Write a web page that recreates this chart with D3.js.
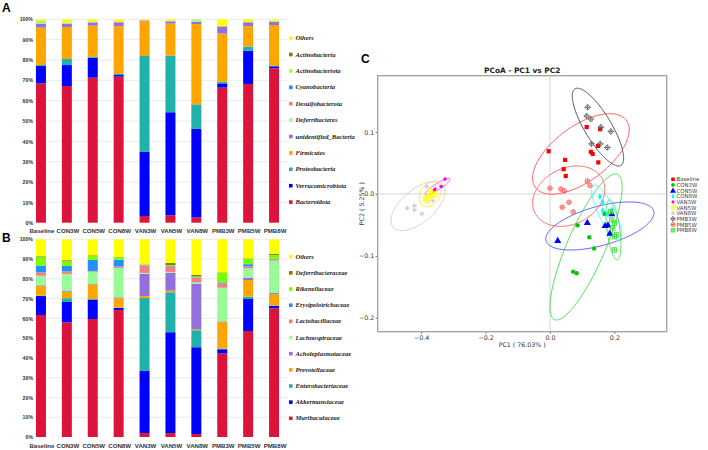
<!DOCTYPE html>
<html><head><meta charset="utf-8">
<script src="https://cdn.jsdelivr.net/npm/d3@7"></script>
<style>body{margin:0;background:#fff}svg{display:block}</style>
</head><body><svg id="c" width="708" height="450"></svg>
<script>
// ---------- DATA ----------
const samples = ["Baseline","CON3W","CON5W","CON8W","VAN3W","VAN5W","VAN8W","PMB3W","PMB5W","PMB8W"];
const pctTicks = [0,10,20,30,40,50,60,70,80,90,100];

// Panel A: phylum level, stacked bottom -> top
const phyla = ["Bacteroidota","Verrucomicrobiota","Proteobacteria","Firmicutes","unidentified_Bacteria","Deferribacteres","Desulfobacterota","Cyanobacteria","Actinobacteriota","Actinobacteria","Others"];
const phylumColors = ["#DC143C","#0000FF","#20B2AA","#FFA500","#9370DB","#98FB98","#F08080","#1E90FF","#ADFF2F","#808000","#FFFF00"];
const phylumValues = [
  [68.5,67.2,71.3,71.8, 3.3, 3.6, 2.6,66.4,68.2,75.9], // Bacteroidota
  [ 8.7,10.3, 9.8, 0.8,31.5,50.7,43.5, 2.1,16.4, 1.0], // Verrucomicrobiota
  [ 0.3, 3.0, 0.4, 0.5,47.2,27.8,12.1, 0.8, 2.0, 0.2], // Proteobacteria
  [18.4,15.7,15.4,23.5,17.0,15.8,39.5,23.7,10.0,20.1], // Firmicutes
  [ 1.8, 1.7, 1.6, 1.9, 0.4, 1.1, 1.0, 3.4, 1.9, 1.5], // unidentified_Bacteria
  [ 0.8, 0.3, 0.2, 0.1, 0.0, 0.3, 1.1, 0.2, 0.1, 0.5], // Deferribacteres
  [ 0.2, 0.1, 0.1, 0.3, 0.1, 0.1, 0.1, 0.1, 0.1, 0.1], // Desulfobacterota
  [ 0.1, 0.0, 0.0, 0.0, 0.0, 0.0, 0.0, 0.0, 0.0, 0.0], // Cyanobacteria
  [ 0.3, 0.1, 0.1, 0.0, 0.1, 0.0, 0.0, 0.1, 0.0, 0.1], // Actinobacteriota
  [ 0.0, 0.0, 0.0, 0.0, 0.0, 0.0, 0.0, 0.0, 0.0, 0.0], // Actinobacteria
  [ 0.9, 1.6, 1.1, 1.1, 0.4, 0.6, 0.1, 3.2, 1.3, 0.6]  // Others
];

// Panel B: family level, stacked bottom -> top
const families = ["Muribaculaceae","Akkermansiaceae","Enterobacteriaceae","Prevotellaceae","Acholeplasmataceae","Lachnospiraceae","Lactobacillaceae","Erysipelotrichaceae","Rikenellaceae","Deferribacteraceae","Others"];
const familyColors = ["#DC143C","#0000FF","#20B2AA","#FFA500","#9370DB","#98FB98","#F08080","#1E90FF","#7CFC00","#808000","#FFFF00"];
const familyValues = [
  [61.7,58.0,59.7,64.2, 2.0, 2.0, 1.5,42.2,53.6,65.1], // Muribaculaceae
  [ 9.6,10.3, 9.8, 1.1,31.4,51.0,43.9, 2.2,16.2, 1.2], // Akkermansiaceae
  [ 0.2, 1.9, 0.3, 0.2,36.9,20.2, 8.6, 0.3, 1.2, 0.2], // Enterobacteriaceae
  [ 4.9, 3.3, 7.4, 4.7, 1.0, 0.8, 0.5,13.5, 8.4, 5.7], // Prevotellaceae
  [ 0.3, 0.5, 0.2, 0.4,11.2, 9.1,23.1, 0.3, 1.2, 0.6], // Acholeplasmataceae
  [ 4.9, 8.5, 6.2,14.9, 0.5, 0.4, 0.6,17.0, 4.7,16.4], // Lachnospiraceae
  [ 1.7, 1.3, 0.4, 0.8, 3.7, 2.8, 2.4, 2.2, 1.0, 0.7], // Lactobacillaceae
  [ 3.4, 2.7, 5.7, 3.4, 0.2, 0.3, 0.2, 0.5, 1.1, 0.3], // Erysipelotrichaceae
  [ 4.2, 2.4, 1.9, 1.2, 0.2, 0.3, 0.4, 4.9, 2.8, 1.9], // Rikenellaceae
  [ 0.5, 0.5, 0.3, 0.3, 0.2, 1.1, 0.8, 0.2, 0.2, 0.6], // Deferribacteraceae
  [ 8.6,10.6, 8.1, 8.8,12.7,12.0,18.0,16.7, 9.6, 7.3]  // Others
];

// Panel C: PCoA
const groups = ["Baseline","CON3W","CON5W","CON8W","VAN3W","VAN5W","VAN8W","PMB3W","PMB5W","PMB8W"];
const groupColors = ["#FF0000","#00C800","#0000FF","#00FFFF","#FF00FF","#FFFF00","#C8C8C8","#555555","#FF5050","#30DD30"];
const ellipseColors = ["#FF4D4D","#44DD44","#5050FF","#33FFFF","#FF33FF","#EEEE00","#CCCCCC","#404040","#FF5C5C","#44DD44"];
const groupShapes = ["square","circle","triangle","diamond","dot","squarePlus","asterisk","diamondPlus","circlePlus","squarePlus"];
const pcoaPoints = [
  [[-0.004,0.069],[0.047,0.055],[0.0425,0.040],[0.049,0.029],[0.114,0.108],[0.156,0.1045],[0.149,0.0775],[0.127,0.068],[0.1325,0.0646],[0.150,0.051]],
  [[0.086,-0.0507],[0.122,-0.070],[0.137,-0.088],[0.072,-0.1255],[0.083,-0.128],[0.169,-0.032]],
  [[0.024,-0.075],[0.116,-0.046],[0.171,-0.051],[0.180,-0.050],[0.192,-0.032],[0.186,-0.0635]],
  [[0.155,-0.0044],[0.163,-0.0135],[0.164,-0.027],[0.192,-0.026],[0.178,-0.032]],
  [[-0.326,0.024],[-0.338,0.012],[-0.357,0.008],[-0.360,0.005]],
  [[-0.388,-0.008],[-0.378,-0.004],[-0.365,-0.002],[-0.357,0.000],[-0.372,0.004],[-0.380,-0.011]],
  [[-0.443,-0.023],[-0.421,-0.019],[-0.421,-0.026],[-0.398,-0.032],[-0.383,0.012],[-0.364,-0.011]],
  [[0.117,0.140],[0.114,0.126],[0.127,0.121],[0.158,0.108],[0.189,0.101],[0.129,0.081],[0.156,0.081],[0.178,0.075]],
  [[0.0,0.0092],[0.034,0.008],[0.0445,0.0048],[0.116,0.021],[0.124,0.0134],[0.059,-0.0134],[0.038,-0.0215],[0.072,-0.029]],
  [[0.188,-0.0285],[0.192,-0.042],[0.200,-0.047],[0.195,-0.055],[0.207,-0.066],[0.200,-0.069],[0.200,-0.0905]]
];
// confidence ellipses: [centre PC1, centre PC2, half-extent PC1, half-extent PC2, correlation]
const ellipseParams = [
  [0.096, 0.0646, 0.150, 0.065, 0.60],
  [0.112,-0.0856, 0.112, 0.118, 0.82],
  [0.155,-0.0517, 0.168, 0.0388, 0.54],
  [0.176,-0.030, 0.0466, 0.0444,-0.80],
  [-0.349, 0.0118, 0.0388, 0.0134, 0.90],
  [-0.372,-0.0003, 0.034, 0.0202, 0.30],
  [-0.410,-0.0197, 0.0839, 0.0396, 0.59],
  [0.149, 0.108, 0.0798, 0.0628,-0.80],
  [0.0584,-0.0036, 0.112, 0.0488, 0.23],
  [0.197,-0.058, 0.0233, 0.0485,-0.50]
];
const pc1Ticks = [-0.4,-0.2,0.0,0.2];
const pc2Ticks = [-0.2,-0.1,0.0,0.1];

// ---------- DRAW ----------
const svg = d3.select("#c");
svg.append("rect").attr("width",708).attr("height",450).attr("fill","#fff");

function stackPanel(top, bottom, taxa, values, colors, labelY, legendY0, legendStep, panelLetter, letterY) {
  const g = svg.append("g");
  const x = d3.scaleBand().domain(samples).range([28,287]).paddingInner(0.614).paddingOuter(0.307);
  const y = d3.scaleLinear().domain([0,100]).range([bottom, top]);
  g.selectAll("line.grid").data(pctTicks.filter(d=>d>0)).join("line")
    .attr("x1",35).attr("x2",287).attr("y1",d=>y(d)).attr("y2",d=>y(d))
    .attr("stroke","#e4e4e4").attr("stroke-width",0.8);
  const axis = d3.axisLeft(y).tickValues(pctTicks).tickFormat(d=>d+"%").tickSize(0).tickPadding(2);
  const ag = g.append("g").attr("transform","translate(35,0)").call(axis);
  ag.select(".domain").remove();
  ag.selectAll("text").attr("font-family","Liberation Sans, Arial, sans-serif").attr("font-weight","bold")
    .attr("font-size","5.2px").attr("fill","#333");
  const rows = samples.map((s,i)=>{const r={sample:s}; taxa.forEach((t,k)=>r[t]=values[k][i]); return r;});
  const series = d3.stack().keys(taxa)(rows);
  series.forEach((ser,k)=>{
    g.append("g").attr("fill",colors[k]).selectAll("rect").data(ser).join("rect")
      .attr("x",d=>x(d.data.sample)).attr("width",x.bandwidth())
      .attr("y",d=>y(d[1])).attr("height",d=>Math.max(0,y(d[0])-y(d[1])));
  });
  g.selectAll("text.lab").data(samples).join("text")
    .attr("x",d=>x(d)+x.bandwidth()/2+1).attr("y",labelY).attr("text-anchor","middle")
    .attr("font-family","Liberation Sans, Arial, sans-serif").attr("font-weight","bold")
    .attr("font-size","6.1px").attr("fill","#333").text(d=>d);
  const leg = taxa.map((t,k)=>({t, c:colors[k]})).reverse();
  const lg = g.append("g");
  leg.forEach((d,i)=>{
    const yy = legendY0 + i*legendStep;
    lg.append("rect").attr("x",289).attr("y",yy-1.9).attr("width",3.6).attr("height",3.6).attr("fill",d.c);
    lg.append("text").attr("x",295.5).attr("y",yy+2).attr("font-family","Liberation Serif, Times New Roman, serif")
      .attr("font-style","italic").attr("font-weight","bold").attr("font-size","6.6px").attr("fill","#222").text(d.t);
  });
  svg.append("text").attr("x",2).attr("y",letterY).attr("font-family","Liberation Sans, Arial, sans-serif")
    .attr("font-weight","bold").attr("font-size","12px").text(panelLetter);
}

stackPanel(19.3, 222.7, phyla, phylumValues, phylumColors, 232.8, 38.2, 16.4, "A", 12);
stackPanel(239.3, 437, families, familyValues, familyColors, 447.6, 256.8, 16.16, "B", 242);

// Panel C
const L=377.7, R=666.7, T=75.7, B=331.7;
const xs = d3.scaleLinear().domain([-0.535,0.3625]).range([L,R]);
const ys = d3.scaleLinear().domain([-0.2225,0.191]).range([B,T]);
const gc = svg.append("g");
svg.append("text").attr("x",361).attr("y",63).attr("font-family","Liberation Sans, Arial, sans-serif")
  .attr("font-weight","bold").attr("font-size","12px").text("C");
gc.append("text").attr("x",(L+R)/2).attr("y",73).attr("text-anchor","middle")
  .attr("font-family","DejaVu Sans, sans-serif").attr("font-weight","bold").attr("font-size","7.4px").attr("fill","#222")
  .text("PCoA - PC1 vs PC2");
gc.append("line").attr("x1",xs(0)).attr("x2",xs(0)).attr("y1",T).attr("y2",B).attr("stroke","#d4d4d4").attr("stroke-width",1);
gc.append("line").attr("x1",L).attr("x2",R).attr("y1",ys(0)).attr("y2",ys(0)).attr("stroke","#d4d4d4").attr("stroke-width",1);
const xa = gc.append("g").attr("transform",`translate(0,${B})`).call(d3.axisBottom(xs).tickValues(pc1Ticks).tickFormat(d3.format(".1f")).tickSize(2).tickPadding(1.5));
const ya = gc.append("g").attr("transform",`translate(${L},0)`).call(d3.axisLeft(ys).tickValues(pc2Ticks).tickFormat(d3.format(".1f")).tickSize(2).tickPadding(1.5));
[xa,ya].forEach(a=>{a.select(".domain").remove();
  a.selectAll("line").attr("stroke","#666");
  a.selectAll("text").attr("font-family","DejaVu Sans, sans-serif").attr("font-size","6.3px").attr("fill","#333");});
gc.append("text").attr("x",(L+R)/2).attr("y",346.5).attr("text-anchor","middle").attr("font-family","DejaVu Sans, sans-serif")
  .attr("font-size","6.3px").attr("fill","#333").text("PC1 ( 76.03% )");
gc.append("text").attr("transform",`translate(363.5,${(T+B)/2}) rotate(-90)`).attr("text-anchor","middle").attr("font-family","DejaVu Sans, sans-serif")
  .attr("font-size","6.3px").attr("fill","#333").text("PC2 ( 5.25% )");
const ts = d3.range(0, 2*Math.PI+0.001, Math.PI/90);
ellipseParams.forEach((e,i)=>{
  const [cx,cy,sx,sy,rho]=e;
  const pts = ts.map(t=>[xs(cx+sx*Math.cos(t)), ys(cy+sy*(rho*Math.cos(t)+Math.sqrt(1-rho*rho)*Math.sin(t)))]);
  gc.append("path").attr("d",d3.line()(pts)+"Z").attr("fill","none").attr("stroke",ellipseColors[i]).attr("stroke-width",0.9);
});
function marker(g, shape, px, py, col, s) {
  s = s||1;
  switch(shape){
    case "square": g.append("rect").attr("x",px-2.1*s).attr("y",py-2.1*s).attr("width",4.2*s).attr("height",4.2*s).attr("fill",col); break;
    case "circle": g.append("circle").attr("cx",px).attr("cy",py).attr("r",2.2*s).attr("fill",col); break;
    case "dot": g.append("circle").attr("cx",px).attr("cy",py).attr("r",1.8*s).attr("fill",col); break;
    case "triangle": g.append("path").attr("d",d3.symbol(d3.symbolTriangle,22*s*s)()).attr("transform",`translate(${px},${py+0.5})`).attr("fill",col); break;
    case "diamond": g.append("path").attr("d",d3.symbol(d3.symbolDiamond,13*s*s)()).attr("transform",`translate(${px},${py})`).attr("fill",col); break;
    case "squarePlus": {
      const r=2.2*s;
      g.append("rect").attr("x",px-r).attr("y",py-r).attr("width",2*r).attr("height",2*r).attr("fill","none").attr("stroke",col).attr("stroke-width",0.8);
      g.append("path").attr("d",`M${px-r},${py}H${px+r}M${px},${py-r}V${py+r}`).attr("stroke",col).attr("stroke-width",0.8);
      break;}
    case "circlePlus": {
      const r=2.3*s;
      g.append("circle").attr("cx",px).attr("cy",py).attr("r",r).attr("fill","none").attr("stroke",col).attr("stroke-width",0.8);
      g.append("path").attr("d",`M${px-r},${py}H${px+r}M${px},${py-r}V${py+r}`).attr("stroke",col).attr("stroke-width",0.8);
      break;}
    case "diamondPlus": {
      const r=2.8*s;
      g.append("path").attr("d",`M${px},${py-r}L${px+r},${py}L${px},${py+r}L${px-r},${py}Z`).attr("fill","none").attr("stroke",col).attr("stroke-width",0.8);
      g.append("path").attr("d",`M${px-r},${py}H${px+r}M${px},${py-r}V${py+r}`).attr("stroke",col).attr("stroke-width",0.8);
      break;}
    case "asterisk": {
      const r=2.4*s, q=r*0.707;
      g.append("path").attr("d",`M${px-r},${py}H${px+r}M${px},${py-r}V${py+r}M${px-q},${py-q}L${px+q},${py+q}M${px-q},${py+q}L${px+q},${py-q}`)
        .attr("stroke",col).attr("stroke-width",0.8);
      break;}
  }
}
const mg = gc.append("g");
groups.forEach((gname,i)=>{
  pcoaPoints[i].forEach(p=>marker(mg, groupShapes[i], xs(p[0]), ys(p[1]), groupColors[i]));
});
gc.append("rect").attr("x",L).attr("y",T).attr("width",R-L).attr("height",B-T).attr("fill","none").attr("stroke","#a0a0a0").attr("stroke-width",1.3);
groups.forEach((gname,i)=>{
  const yy = 179.3 + i*5.65;
  marker(gc, groupShapes[i], 673, yy, groupColors[i], 0.85);
  gc.append("text").attr("x",676.5).attr("y",yy+2).attr("font-family","DejaVu Sans, sans-serif")
    .attr("font-size","5.4px").attr("fill","#444").text(gname);
});
</script></body></html>
